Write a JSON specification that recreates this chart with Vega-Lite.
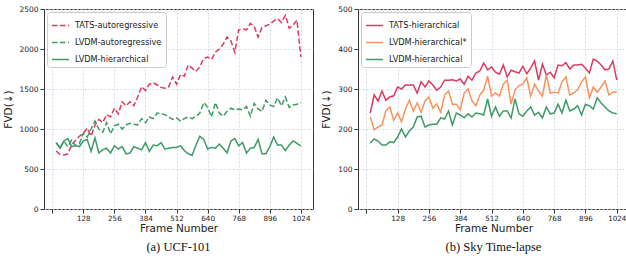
{
  "$schema": "https://vega.github.io/schema/vega-lite/v6.json",
  "background": "white",
  "padding": {"left": 3, "top": 4, "right": 0, "bottom": 1},
  "config": {
    "font": "DejaVu Sans",
    "view": {"stroke": "#333", "strokeWidth": 1},
    "axis": {"labelFontSize": 7.5, "labelColor": "#222", "titleFontSize": 10.5, "titleFontWeight": "normal", "titleColor": "#222", "gridColor": "#c8d4e6", "gridDash": [2, 2], "gridWidth": 0.8, "tickColor": "#333", "tickSize": 4, "domain": false, "labelPadding": 2},
    "axisX": {"titlePadding": 2, "labelPadding": 1, "labelFontSize": 7.2},
    "axisY": {"titlePadding": 5},
    "legend": {"strokeColor": "#cccccc", "fillColor": "white", "padding": 4, "cornerRadius": 3, "labelFontSize": 8.2, "labelColor": "#222", "symbolType": "stroke", "symbolSize": 290, "symbolStrokeWidth": 1.5, "rowPadding": 4, "offset": 3, "labelOffset": 5},
    "title": {"font": "Liberation Serif", "fontSize": 12.5, "fontWeight": "normal", "color": "#111"}
  },
  "datasets": {
    "ucf": [
      {"f": 16, "a": 725, "b": 830, "c": 830},
      {"f": 32, "a": 680, "b": 760, "c": 760},
      {"f": 48, "a": 675, "b": 850, "c": 850},
      {"f": 64, "a": 690, "b": 780, "c": 880},
      {"f": 80, "a": 800, "b": 860, "c": 780},
      {"f": 96, "a": 860, "b": 790, "c": 790},
      {"f": 112, "a": 910, "b": 820, "c": 780},
      {"f": 128, "a": 950, "b": 950, "c": 850},
      {"f": 144, "a": 1010, "b": 900, "c": 870},
      {"f": 160, "a": 910, "b": 1000, "c": 720},
      {"f": 176, "a": 1050, "b": 1100, "c": 890},
      {"f": 192, "a": 1120, "b": 1000, "c": 700},
      {"f": 208, "a": 1080, "b": 960, "c": 740},
      {"f": 224, "a": 1180, "b": 1080, "c": 760},
      {"f": 240, "a": 1150, "b": 940, "c": 700},
      {"f": 256, "a": 1260, "b": 1040, "c": 790},
      {"f": 272, "a": 1190, "b": 1060, "c": 750},
      {"f": 288, "a": 1340, "b": 1000, "c": 780},
      {"f": 304, "a": 1290, "b": 1050, "c": 690},
      {"f": 320, "a": 1340, "b": 1070, "c": 700},
      {"f": 336, "a": 1290, "b": 1060, "c": 780},
      {"f": 352, "a": 1400, "b": 1050, "c": 760},
      {"f": 368, "a": 1530, "b": 1130, "c": 740},
      {"f": 384, "a": 1480, "b": 1080, "c": 830},
      {"f": 400, "a": 1560, "b": 1150, "c": 720},
      {"f": 416, "a": 1580, "b": 1130, "c": 800},
      {"f": 432, "a": 1550, "b": 1200, "c": 790},
      {"f": 448, "a": 1520, "b": 1190, "c": 830},
      {"f": 464, "a": 1510, "b": 1180, "c": 750},
      {"f": 480, "a": 1530, "b": 1150, "c": 760},
      {"f": 496, "a": 1650, "b": 1120, "c": 770},
      {"f": 512, "a": 1560, "b": 1140, "c": 770},
      {"f": 528, "a": 1680, "b": 1100, "c": 790},
      {"f": 544, "a": 1660, "b": 1130, "c": 730},
      {"f": 560, "a": 1800, "b": 1150, "c": 690},
      {"f": 576, "a": 1760, "b": 1130, "c": 670},
      {"f": 592, "a": 1720, "b": 1160, "c": 800},
      {"f": 608, "a": 1780, "b": 1200, "c": 910},
      {"f": 624, "a": 1880, "b": 1330, "c": 870},
      {"f": 640, "a": 1900, "b": 1270, "c": 750},
      {"f": 656, "a": 1870, "b": 1150, "c": 770},
      {"f": 672, "a": 1960, "b": 1330, "c": 760},
      {"f": 688, "a": 2000, "b": 1200, "c": 810},
      {"f": 704, "a": 2060, "b": 1160, "c": 760},
      {"f": 720, "a": 2150, "b": 1220, "c": 700},
      {"f": 736, "a": 2100, "b": 1260, "c": 850},
      {"f": 752, "a": 1960, "b": 1240, "c": 880},
      {"f": 768, "a": 2240, "b": 1250, "c": 790},
      {"f": 784, "a": 2250, "b": 1240, "c": 830},
      {"f": 800, "a": 2240, "b": 1280, "c": 700},
      {"f": 816, "a": 2320, "b": 1160, "c": 760},
      {"f": 832, "a": 2280, "b": 1320, "c": 770},
      {"f": 848, "a": 2150, "b": 1250, "c": 870},
      {"f": 864, "a": 2270, "b": 1220, "c": 690},
      {"f": 880, "a": 2290, "b": 1360, "c": 690},
      {"f": 896, "a": 2310, "b": 1300, "c": 780},
      {"f": 912, "a": 2350, "b": 1280, "c": 900},
      {"f": 928, "a": 2380, "b": 1390, "c": 800},
      {"f": 944, "a": 2330, "b": 1290, "c": 800},
      {"f": 960, "a": 2420, "b": 1400, "c": 730},
      {"f": 976, "a": 2260, "b": 1270, "c": 800},
      {"f": 992, "a": 2300, "b": 1300, "c": 850},
      {"f": 1008, "a": 2360, "b": 1310, "c": 820},
      {"f": 1024, "a": 1900, "b": 1330, "c": 790}
    ],
    "sky": [
      {"f": 16, "a": 240, "b": 230, "c": 165},
      {"f": 32, "a": 285, "b": 198, "c": 175},
      {"f": 48, "a": 270, "b": 205, "c": 170},
      {"f": 64, "a": 295, "b": 210, "c": 160},
      {"f": 80, "a": 272, "b": 245, "c": 160},
      {"f": 96, "a": 280, "b": 255, "c": 168},
      {"f": 112, "a": 283, "b": 222, "c": 166},
      {"f": 128, "a": 305, "b": 240, "c": 180},
      {"f": 144, "a": 300, "b": 218, "c": 200},
      {"f": 160, "a": 310, "b": 250, "c": 180},
      {"f": 176, "a": 310, "b": 272, "c": 195},
      {"f": 192, "a": 310, "b": 245, "c": 205},
      {"f": 208, "a": 290, "b": 265, "c": 230},
      {"f": 224, "a": 318, "b": 242, "c": 232},
      {"f": 240, "a": 305, "b": 270, "c": 205},
      {"f": 256, "a": 320, "b": 280, "c": 210},
      {"f": 272, "a": 310, "b": 252, "c": 212},
      {"f": 288, "a": 297, "b": 263, "c": 212},
      {"f": 304, "a": 305, "b": 242, "c": 228},
      {"f": 320, "a": 322, "b": 285, "c": 225},
      {"f": 336, "a": 322, "b": 295, "c": 245},
      {"f": 352, "a": 323, "b": 262, "c": 210},
      {"f": 368, "a": 320, "b": 262, "c": 240},
      {"f": 384, "a": 325, "b": 248, "c": 235},
      {"f": 400, "a": 312, "b": 290, "c": 228},
      {"f": 416, "a": 332, "b": 300, "c": 238},
      {"f": 432, "a": 322, "b": 270, "c": 230},
      {"f": 448, "a": 340, "b": 258, "c": 240},
      {"f": 464, "a": 345, "b": 285, "c": 238},
      {"f": 480, "a": 365, "b": 298, "c": 235},
      {"f": 496, "a": 348, "b": 332, "c": 275},
      {"f": 512, "a": 355, "b": 282, "c": 232},
      {"f": 528, "a": 342, "b": 290, "c": 255},
      {"f": 544, "a": 337, "b": 282, "c": 232},
      {"f": 560, "a": 360, "b": 312, "c": 245},
      {"f": 576, "a": 330, "b": 322, "c": 245},
      {"f": 592, "a": 347, "b": 262, "c": 228},
      {"f": 608, "a": 343, "b": 298, "c": 275},
      {"f": 624, "a": 340, "b": 308, "c": 238},
      {"f": 640, "a": 357, "b": 312, "c": 232},
      {"f": 656, "a": 338, "b": 328, "c": 245},
      {"f": 672, "a": 352, "b": 282, "c": 255},
      {"f": 688, "a": 370, "b": 312, "c": 235},
      {"f": 704, "a": 322, "b": 295, "c": 242},
      {"f": 720, "a": 362, "b": 282, "c": 228},
      {"f": 736, "a": 335, "b": 335, "c": 255},
      {"f": 752, "a": 342, "b": 290, "c": 238},
      {"f": 768, "a": 328, "b": 292, "c": 240},
      {"f": 784, "a": 360, "b": 290, "c": 262},
      {"f": 800, "a": 358, "b": 318, "c": 240},
      {"f": 816, "a": 366, "b": 330, "c": 272},
      {"f": 832, "a": 350, "b": 285, "c": 245},
      {"f": 848, "a": 360, "b": 290, "c": 250},
      {"f": 864, "a": 360, "b": 298, "c": 258},
      {"f": 880, "a": 362, "b": 318, "c": 235},
      {"f": 896, "a": 352, "b": 330, "c": 262},
      {"f": 912, "a": 340, "b": 278, "c": 258},
      {"f": 928, "a": 375, "b": 305, "c": 250},
      {"f": 944, "a": 370, "b": 292, "c": 278},
      {"f": 960, "a": 360, "b": 305, "c": 265},
      {"f": 976, "a": 348, "b": 320, "c": 255},
      {"f": 992, "a": 350, "b": 285, "c": 245},
      {"f": 1008, "a": 370, "b": 292, "c": 240},
      {"f": 1024, "a": 322, "b": 293, "c": 238}
    ]
  },
  "hconcat": [
    {
      "width": 269,
      "height": 200,
      "data": {"name": "ucf"},
      "transform": [{"fold": ["a", "b", "c"], "as": ["k", "v"]}],
      "title": {"text": "(a) UCF-101", "orient": "bottom", "offset": 7},
      "mark": {"type": "line", "strokeWidth": 1.5, "clip": true},
      "encoding": {
        "x": {"field": "f", "type": "quantitative", "scale": {"domain": [-34, 1074], "nice": false, "zero": false}, "axis": {"values": [0, 128, 256, 384, 512, 640, 768, 896, 1024], "labelExpr": "datum.value == 0 ? '' : datum.label", "format": "d", "title": "Frame Number"}},
        "y": {"field": "v", "type": "quantitative", "scale": {"domain": [0, 2500], "nice": false}, "axis": {"values": [0, 500, 1000, 1500, 2000, 2500], "format": "d", "title": "FVD(↓)"}},
        "color": {"field": "k", "type": "nominal", "scale": {"domain": ["a", "b", "c"], "range": ["#dc3b5f", "#3f9a66", "#3f9a66"]}, "legend": {"orient": "top-left", "title": null, "labelExpr": "datum.label == 'a' ? 'TATS-autoregressive' : datum.label == 'b' ? 'LVDM-autoregressive' : 'LVDM-hierarchical'"}},
        "strokeDash": {"field": "k", "type": "nominal", "scale": {"domain": ["a", "b", "c"], "range": [[5.5, 2.5], [5.5, 2.5], [1, 0]]}, "legend": {"orient": "top-left", "title": null, "labelExpr": "datum.label == 'a' ? 'TATS-autoregressive' : datum.label == 'b' ? 'LVDM-autoregressive' : 'LVDM-hierarchical'"}}
      }
    },
    {
      "width": 271,
      "height": 200,
      "data": {"name": "sky"},
      "transform": [{"fold": ["a", "b", "c"], "as": ["k", "v"]}],
      "title": {"text": "(b) Sky Time-lapse", "orient": "bottom", "offset": 7},
      "mark": {"type": "line", "strokeWidth": 1.5, "clip": true},
      "encoding": {
        "x": {"field": "f", "type": "quantitative", "scale": {"domain": [-34, 1074], "nice": false, "zero": false}, "axis": {"values": [0, 128, 256, 384, 512, 640, 768, 896, 1024], "labelExpr": "datum.value == 0 ? '' : datum.label", "format": "d", "title": "Frame Number"}},
        "y": {"field": "v", "type": "quantitative", "scale": {"domain": [0, 500], "nice": false}, "axis": {"values": [0, 100, 200, 300, 400, 500], "format": "d", "title": "FVD(↓)", "titlePadding": 6}},
        "color": {"field": "k", "type": "nominal", "scale": {"domain": ["a", "b", "c"], "range": ["#dc3b5f", "#f9935f", "#3f9a66"]}, "legend": {"orient": "top-left", "title": null, "labelExpr": "datum.label == 'a' ? 'TATS-hierarchical' : datum.label == 'b' ? 'LVDM-hierarchical*' : 'LVDM-hierarchical'"}}
      }
    }
  ],
  "spacing": 7,
  "resolve": {"scale": {"color": "independent", "strokeDash": "independent"}, "legend": {"color": "independent", "strokeDash": "independent"}}
}
